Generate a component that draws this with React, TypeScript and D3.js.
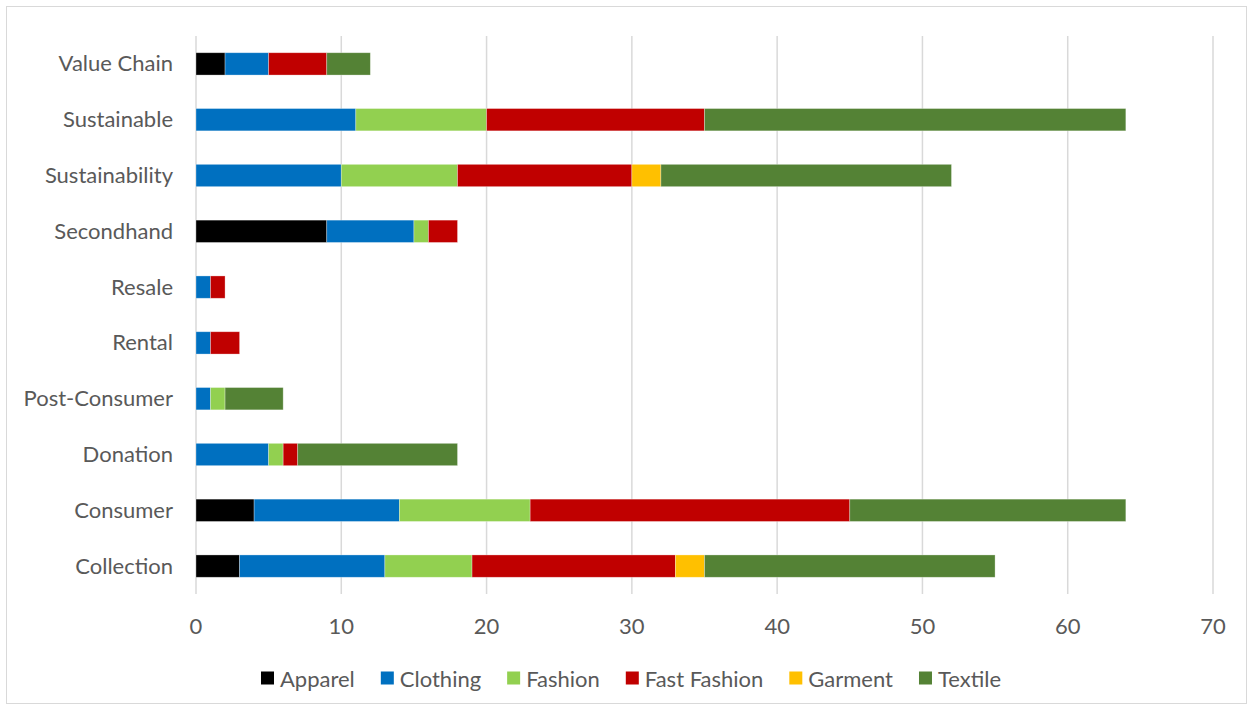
import React, { useEffect, useRef } from "react";
import * as d3 from "d3";

const categories = ["Value Chain", "Sustainable", "Sustainability", "Secondhand", "Resale", "Rental", "Post-Consumer", "Donation", "Consumer", "Collection"];
const seriesNames = ["Apparel", "Clothing", "Fashion", "Fast Fashion", "Garment", "Textile"];
const seriesColors = ["#000000", "#0070C0", "#92D050", "#C00000", "#FFC000", "#548235"];
const apparel = [2, 0, 0, 9, 0, 0, 0, 0, 4, 3];
const clothing = [3, 11, 10, 6, 1, 1, 1, 5, 10, 10];
const fashion = [0, 9, 8, 1, 0, 0, 1, 1, 9, 6];
const fastFashion = [4, 15, 12, 2, 1, 2, 0, 1, 22, 14];
const garment = [0, 0, 2, 0, 0, 0, 0, 0, 0, 2];
const textile = [3, 29, 20, 0, 0, 0, 4, 11, 19, 20];
const xTicks = [0, 10, 20, 30, 40, 50, 60, 70];

const W = 1253, H = 710;
const FONT = "Lato, 'Open Sans', sans-serif";

export default function App() {
  const ref = useRef<SVGSVGElement>(null);
  useEffect(() => {
    const svg = d3.select(ref.current);
    svg.selectAll("*").remove();
    svg.append("rect").attr("x", 6.5).attr("y", 6.5).attr("width", 1240).attr("height", 697)
      .attr("fill", "#fff").attr("stroke", "#d9d9d9").attr("stroke-width", 1);

    const left = 196, right = 1213, top = 36, bottom = 594;
    const x = d3.scaleLinear().domain([0, 70]).range([left, right]);
    const y = d3.scaleBand().domain(categories).range([top, bottom]).paddingInner(0.6).paddingOuter(0.3);

    const g = svg.append("g");
    g.selectAll("line.grid").data(xTicks).enter().append("line")
      .attr("x1", d => x(d)).attr("x2", d => x(d)).attr("y1", top).attr("y2", bottom)
      .attr("stroke", "#d9d9d9").attr("stroke-width", 1.5);

    const table = categories.map((c, i) => ({
      cat: c,
      Apparel: apparel[i], Clothing: clothing[i], Fashion: fashion[i],
      "Fast Fashion": fastFashion[i], Garment: garment[i], Textile: textile[i],
    }));
    const stacked = d3.stack<any>().keys(seriesNames)(table);
    stacked.forEach((s, si) => {
      g.append("g").selectAll("rect").data(s.filter(d => d[1] - d[0] > 0)).enter().append("rect")
        .attr("x", d => x(d[0])).attr("width", d => x(d[1]) - x(d[0]))
        .attr("y", d => y(d.data.cat)!).attr("height", y.bandwidth())
        .attr("fill", seriesColors[si]).attr("stroke", "rgba(255,255,255,0.4)").attr("stroke-width", 0.75);
    });

    g.selectAll("text.cat").data(categories).enter().append("text")
      .attr("x", left - 23).attr("y", d => y(d)! + y.bandwidth() / 2 - 1)
      .attr("text-anchor", "end").attr("dominant-baseline", "central")
      .attr("font-family", FONT).attr("font-size", 22).attr("fill", "#595959").text(d => d);

    g.selectAll("text.tick").data(xTicks).enter().append("text")
      .attr("x", d => x(d)).attr("y", 625).attr("text-anchor", "middle").attr("dominant-baseline", "central")
      .attr("font-family", FONT).attr("font-size", 22).attr("fill", "#595959").text(d => d);

    let lx = 261;
    const ly = 678;
    seriesNames.forEach((n, i) => {
      g.append("rect").attr("x", lx).attr("y", ly - 6.5).attr("width", 13).attr("height", 13).attr("fill", seriesColors[i]);
      const t = g.append("text").attr("x", lx + 19).attr("y", ly).attr("dominant-baseline", "central")
        .attr("font-family", FONT).attr("font-size", 22).attr("fill", "#595959").text(n);
      const w = (t.node() as SVGTextElement).getComputedTextLength();
      lx = lx + 19 + w + 26;
    });
  }, []);
  return (
    <svg ref={ref} width={W} height={H} style={{ position: "absolute", left: 0, top: 0 }} />
  );
}
